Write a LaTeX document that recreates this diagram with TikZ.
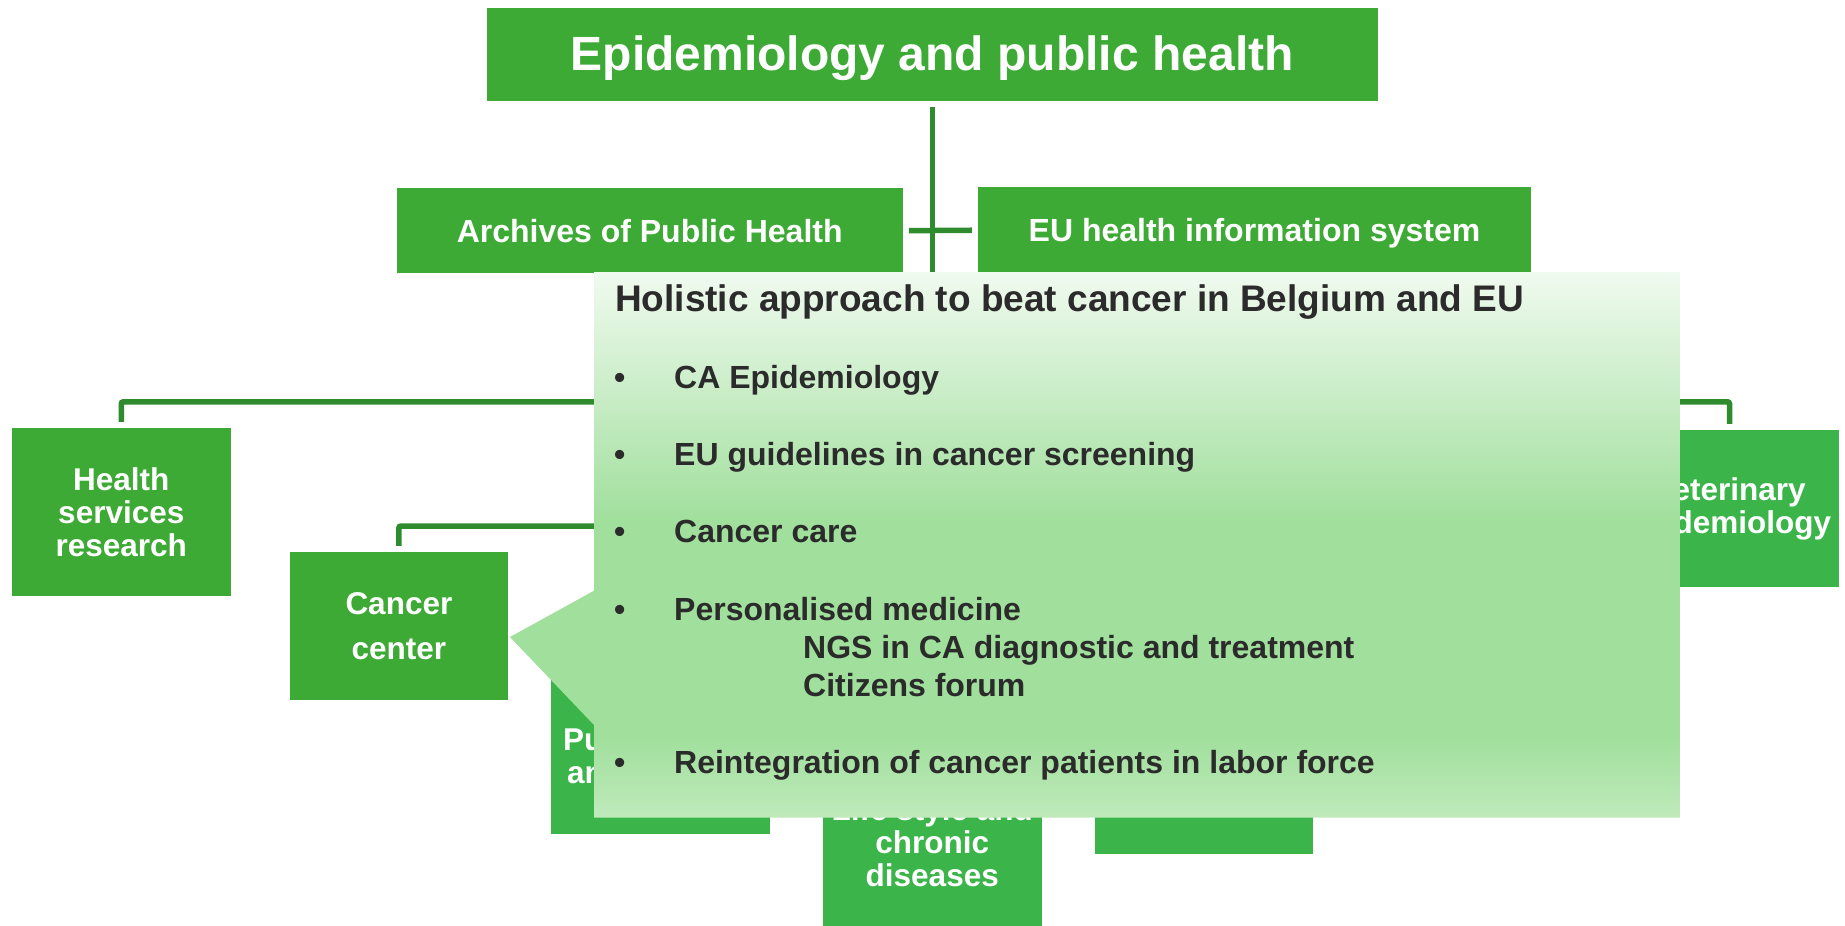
\documentclass[tikz,border=0pt]{standalone}
\usepackage{fontspec}
\setmainfont{Liberation Sans}
\definecolor{boxA}{HTML}{3DAA35}
\definecolor{boxB}{HTML}{3BB54A}
\definecolor{connc}{HTML}{2E8B2E}
\definecolor{ctop}{HTML}{F0FAEF}
\definecolor{cmid}{HTML}{A0DF9C}
\definecolor{cbot}{HTML}{BFEABB}
\definecolor{ctext}{HTML}{2B2B2B}
\pgfdeclareverticalshading{callshade}{100bp}{color(0bp)=(cbot); color(25bp)=(cbot); color(32.5bp)=(cmid); color(52bp)=(cmid); color(75bp)=(ctop); color(100bp)=(ctop)}
\tikzset{
  orgbox/.style={rectangle, fill=boxA, text=white, inner sep=0pt, align=center,
    font=\bfseries\fontsize{31.5}{33}\selectfont},
  lowbox/.style={orgbox, fill=boxB},
  conn/.style={draw=connc, line width=5.5pt, rounded corners=2pt},
  calltext/.style={text=ctext, inner sep=0pt, anchor=base west,
    font=\bfseries\fontsize{32}{34}\selectfont},
  fragtext/.style={text=white, inner sep=0pt, anchor=base west,
    font=\bfseries\fontsize{31.5}{33}\selectfont},
}
\begin{document}
\begin{tikzpicture}[x=1pt,y=-1pt]
\useasboundingbox[fill=white] (0,0) rectangle (1845,926);

% boxes
\node[orgbox, minimum width=891.5pt, minimum height=93pt, text depth=3pt,
  font=\bfseries\fontsize{48}{50}\selectfont] (top) at (932.25,54.5) {Epidemiology and public health};
\node[orgbox, minimum width=506pt, minimum height=84.5pt,
  font=\bfseries\fontsize{32}{34}\selectfont] (arch) at (649.7,230.7) {Archives of Public Health};
\node[orgbox, minimum width=553pt, minimum height=85.5pt, text depth=0pt,
  font=\bfseries\fontsize{32}{34}\selectfont] (eu) at (1254.5,230.2) {EU health information system};
\node[orgbox, minimum width=219pt, minimum height=168.5pt] (hsr) at (121.3,512.2) {Health\\services\\research};
\node[orgbox, minimum width=218.8pt, minimum height=148pt,
  font=\bfseries\fontsize{31.5}{44.5}\selectfont] (cancer) at (398.9,626) {Cancer\\center};
\node[lowbox, minimum width=219pt, minimum height=157pt] (vet) at (1729.5,508.5) {Veterinary\\epidemiology};
\node[lowbox, minimum width=219pt, minimum height=156pt] (pub) at (660.5,756) {};
\node[fragtext] (pubt1) at (563,750) {Pu};
\node[fragtext] (pubt2) at (567,783) {an};
\node[lowbox, minimum width=218.5pt, minimum height=168pt] (life) at (932.25,842) {Life style and\\chronic\\diseases};
\node[lowbox, minimum width=218.5pt, minimum height=154pt] (fourth) at (1203.75,777) {};

% connectors
\coordinate (bar1) at (932.3,401.8);
\coordinate (bar2) at (932.3,526);
\draw[conn, shorten <=6pt] (top.south) -- (top.south |- bar2);
\draw[conn, shorten <=6pt, shorten >=6pt] (arch.east) -- (eu.west);
\draw[conn] ([yshift=6pt]hsr.north) -- (hsr.north |- bar1) -- (vet.north |- bar1) -- ([yshift=6pt]vet.north);
\draw[conn] ([yshift=6pt]cancer.north) -- (cancer.north |- bar2) -- (bar2);

% callout
\path[shading=callshade] (594,272) -- (1680,272) -- (1680,817.5) -- (594,817.5)
  -- (594,725) -- (510,637) -- (594,590.7) -- cycle;

\node[calltext, font=\bfseries\fontsize{37}{40}\selectfont] (title) at (615,311.7)
  {Holistic approach to beat cancer in Belgium and EU};
\node[calltext] (b1) at (614,388) {•};
\node[calltext] (t1) at (674,388) {CA Epidemiology};
\node[calltext] (b2) at (614,465.7) {•};
\node[calltext] (t2) at (674,465.7) {EU guidelines in cancer screening};
\node[calltext] (b3) at (614,542.7) {•};
\node[calltext] (t3) at (674,542.7) {Cancer care};
\node[calltext] (b4) at (614,620) {•};
\node[calltext] (t4) at (674,620) {Personalised medicine};
\node[calltext] (t4a) at (803,658.3) {NGS in CA diagnostic and treatment};
\node[calltext] (t4b) at (803,696) {Citizens forum};
\node[calltext] (b5) at (614,773.3) {•};
\node[calltext] (t5) at (674,773.3) {Reintegration of cancer patients in labor force};
\end{tikzpicture}
\end{document}
